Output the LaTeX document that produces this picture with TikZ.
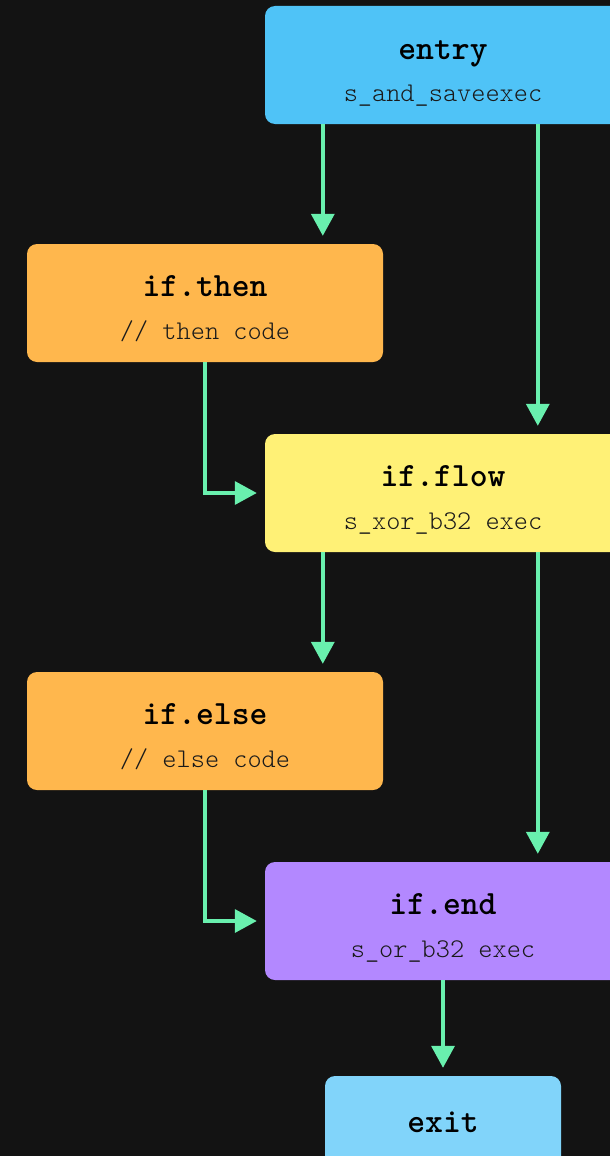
\documentclass[tikz,border=0pt]{standalone}
\usepackage{fontspec}
\newfontfamily\cfmono{Latin Modern Mono Light}
\usetikzlibrary{arrows.meta,calc}
\definecolor{bgc}{HTML}{131313}
\definecolor{entryc}{HTML}{4FC3F7}
\definecolor{thenc}{HTML}{FFB74D}
\definecolor{flowc}{HTML}{FFF176}
\definecolor{endc}{HTML}{B388FF}
\definecolor{exitc}{HTML}{81D4FA}
\definecolor{arrc}{HTML}{69F0AE}
\definecolor{subc}{HTML}{1A1A1A}
\tikzset{
  blk/.style={rectangle, rounded corners=10pt, minimum width=356pt, minimum height=118pt, inner sep=0pt, draw=none},
  ttl/.style={anchor=base, inner sep=0pt, text=black, font=\cfmono\bfseries\fontsize{34}{40}\selectfont},
  sub/.style={anchor=base, inner sep=0pt, text=subc, font=\cfmono\fontsize{27}{32}\selectfont},
  arr/.style={draw=arrc, line width=3.5pt, -{Triangle[length=22pt,width=23pt]}, shorten >=8pt}
}
\begin{document}
\begin{tikzpicture}[x=1pt,y=-1pt]
\fill[bgc] (0,0) rectangle (610,1156);
\useasboundingbox (0,0) rectangle (610,1156);
\clip (0,0) rectangle (610,1156);
\node[blk, fill=entryc] (entry) at (443,65) {};
\node[blk, fill=thenc] (then) at (205,303) {};
\node[blk, fill=flowc] (flow) at (443,493) {};
\node[blk, fill=thenc] (else) at (205,731) {};
\node[blk, fill=endc] (end) at (443,921) {};
\node[blk, fill=exitc, minimum width=236pt, minimum height=96pt] (exit) at (443,1124) {};

\node[ttl] (entryt) at ([yshift=-54pt]entry.north) {entry};
\node[sub] (entrys) at ([yshift=-96pt]entry.north) {s\_and\_saveexec};
\node[ttl] (thent) at ([yshift=-53pt]then.north) {if.then};
\node[sub] (thens) at ([yshift=-96pt]then.north) {// then code};
\node[ttl] (flowt) at ([yshift=-53pt]flow.north) {if.flow};
\node[sub] (flows) at ([yshift=-96pt]flow.north) {s\_xor\_b32 exec};
\node[ttl] (elset) at ([yshift=-53pt]else.north) {if.else};
\node[sub] (elses) at ([yshift=-96pt]else.north) {// else code};
\node[ttl] (endt) at ([yshift=-53pt]end.north) {if.end};
\node[sub] (ends) at ([yshift=-96pt]end.north) {s\_or\_b32 exec};
\node[ttl] (exitt) at ([yshift=-57pt]exit.north) {exit};

\coordinate (e1) at ([xshift=58pt]entry.south west);
\coordinate (e2) at ([xshift=273pt]entry.south west);
\coordinate (f1) at ([xshift=58pt]flow.south west);
\coordinate (f2) at ([xshift=273pt]flow.south west);
\draw[arr] (e1) -- (e1 |- then.north);
\draw[arr] (e2) -- (e2 |- flow.north);
\draw[arr] (then.south) |- (flow.west);
\draw[arr] (f1) -- (f1 |- else.north);
\draw[arr] (f2) -- (f2 |- end.north);
\draw[arr] (else.south) |- (end.west);
\draw[arr] (end.south) -- (exit.north);
\end{tikzpicture}
\end{document}
